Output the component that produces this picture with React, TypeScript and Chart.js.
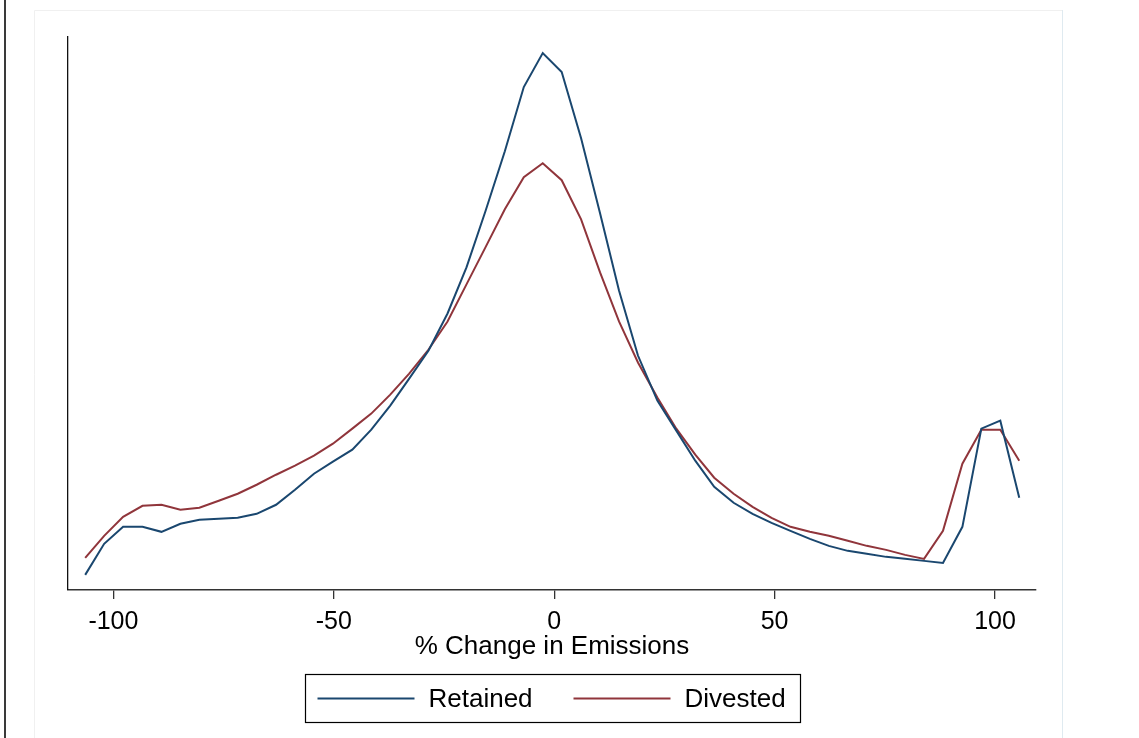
import React, { useEffect, useRef } from "react";
import { Chart, registerables } from "chart.js";

Chart.register(...registerables);

// Evaluation grid (% change in emissions) shared by both kernel density estimates
const X_GRID = [
  -106.4, -102.1, -97.8, -93.4, -89.1, -84.8, -80.5, -76.1, -71.8, -67.5,
  -63.1, -58.8, -54.5, -50.2, -45.8, -41.5, -37.2, -32.9, -28.5, -24.2,
  -19.9, -15.6, -11.2, -6.9, -2.6, 1.7, 6.1, 10.4, 14.7, 19.0,
  23.4, 27.7, 32.0, 36.3, 40.7, 45.0, 49.3, 53.6, 58.0, 62.3,
  66.6, 70.9, 75.3, 79.6, 83.9, 88.2, 92.6, 96.9, 101.2, 105.5,
];

const RETAINED = [
  0.0006, 0.00184, 0.00252, 0.00252, 0.00232, 0.00264, 0.0028, 0.00284, 0.00288, 0.00304,
  0.0034, 0.004, 0.00464, 0.00512, 0.0056, 0.0064, 0.00736, 0.00844, 0.00956, 0.01104,
  0.01288, 0.01512, 0.01752, 0.02008, 0.02144, 0.02068, 0.01804, 0.01504, 0.01196, 0.00936,
  0.00756, 0.00636, 0.00516, 0.00412, 0.00348, 0.00304, 0.00268, 0.00236, 0.00204, 0.00176,
  0.00156, 0.00144, 0.00132, 0.00124, 0.00116, 0.00108, 0.00252, 0.00644, 0.00676, 0.00368,
];

const DIVESTED = [
  0.00128, 0.00216, 0.00292, 0.00336, 0.0034, 0.0032, 0.00328, 0.00356, 0.00384, 0.0042,
  0.0046, 0.00496, 0.00536, 0.00584, 0.00644, 0.00704, 0.0078, 0.00864, 0.0096, 0.01072,
  0.0122, 0.01368, 0.0152, 0.01648, 0.01704, 0.01636, 0.0148, 0.01268, 0.01072, 0.00908,
  0.00768, 0.00644, 0.0054, 0.00448, 0.00384, 0.00332, 0.00288, 0.00252, 0.00232, 0.00216,
  0.00196, 0.00176, 0.0016, 0.0014, 0.00124, 0.00236, 0.00504, 0.0064, 0.0064, 0.00516,
];

const X_TICKS = [-100, -50, 0, 50, 100];
const SERIES_LABELS = ["Retained", "Divested"];
const X_TITLE = "% Change in Emissions";

const FONT = "Arial, 'Liberation Sans', sans-serif";
const COLORS = ["#1a476f", "#90353b"];

const framePlugin = {
  id: "frame",
  beforeDraw(chart: any) {
    const ctx = chart.ctx;
    const H = chart.height;
    ctx.save();
    ctx.fillStyle = "#ffffff";
    ctx.fillRect(0, 0, chart.width, H);
    // page rule on the left
    ctx.strokeStyle = "#3a3a3a";
    ctx.lineWidth = 2;
    ctx.beginPath();
    ctx.moveTo(5, 0);
    ctx.lineTo(5, H);
    ctx.stroke();
    // faint graph region frame
    ctx.lineWidth = 1;
    ctx.strokeStyle = "#f0f0f0";
    ctx.beginPath();
    ctx.moveTo(34.5, H);
    ctx.lineTo(34.5, 10.5);
    ctx.lineTo(1062, 10.5);
    ctx.stroke();
    ctx.strokeStyle = "#dfeaf0";
    ctx.beginPath();
    ctx.moveTo(1062.5, 10);
    ctx.lineTo(1062.5, H);
    ctx.stroke();
    ctx.restore();
  },
};

const legendPlugin = {
  id: "boxLegend",
  afterDraw(chart: any) {
    const ctx = chart.ctx;
    const area = chart.chartArea;
    const cx = (area.left + area.right) / 2;
    const boxW = 495;
    const boxH = 48;
    const left = Math.round(cx - boxW / 2) + 0.5;
    const top = 674.5;
    ctx.save();
    ctx.strokeStyle = "#000";
    ctx.lineWidth = 1.2;
    ctx.strokeRect(left, top, boxW, boxH);
    const midY = top + boxH / 2;
    ctx.font = `26px ${FONT}`;
    ctx.textBaseline = "middle";
    ctx.fillStyle = "#000";
    const ds = chart.data.datasets;
    const itemOffsets = [12, 268];
    ds.forEach((d: any, i: number) => {
      const x0 = left + itemOffsets[i];
      ctx.strokeStyle = d.borderColor;
      ctx.lineWidth = 2;
      ctx.beginPath();
      ctx.moveTo(x0, midY);
      ctx.lineTo(x0 + 97, midY);
      ctx.stroke();
      ctx.fillText(d.label, x0 + 111, midY + 1);
    });
    ctx.restore();
  },
};

export default function App() {
  const canvasRef = useRef<HTMLCanvasElement | null>(null);

  useEffect(() => {
    const canvas = canvasRef.current;
    if (!canvas) return;
    const chart = new Chart(canvas, {
      type: "line",
      data: {
        datasets: [
          {
            label: SERIES_LABELS[0],
            data: X_GRID.map((x, i) => ({ x, y: RETAINED[i] })),
            borderColor: COLORS[0],
            backgroundColor: COLORS[0],
            borderWidth: 2,
            pointRadius: 0,
            tension: 0,
            fill: false,
          },
          {
            label: SERIES_LABELS[1],
            data: X_GRID.map((x, i) => ({ x, y: DIVESTED[i] })),
            borderColor: COLORS[1],
            backgroundColor: COLORS[1],
            borderWidth: 2,
            pointRadius: 0,
            tension: 0,
            fill: false,
          },
        ],
      },
      options: {
        responsive: false,
        animation: false,
        events: [],
        layout: { padding: { left: 68, right: 103, top: 37, bottom: 84 } },
        plugins: {
          legend: { display: false },
          tooltip: { enabled: false },
          title: { display: false },
        },
        scales: {
          x: {
            type: "linear",
            min: -110.3,
            max: 109.3,
            afterBuildTicks: (scale: any) => {
              scale.ticks = X_TICKS.map((v) => ({ value: v }));
            },
            grid: {
              display: true,
              drawOnChartArea: false,
              drawTicks: true,
              tickLength: 9,
              color: "#333",
              lineWidth: 1.3,
            },
            border: { display: true, color: "#333", width: 1.5 },
            ticks: {
              color: "#000",
              font: { family: FONT, size: 25, lineHeight: 1 },
              padding: 11,
              maxRotation: 0,
              autoSkip: false,
              callback: (v: any) => String(v),
            },
            title: {
              display: true,
              text: X_TITLE,
              color: "#000",
              font: { family: FONT, size: 26, lineHeight: 0.58 },
              padding: { top: -7, bottom: 0 },
            },
          },
          y: {
            type: "linear",
            min: 0,
            max: 0.02208,
            grid: { display: false, drawTicks: false },
            border: { display: true, color: "#111", width: 1.3 },
            ticks: { display: false },
          },
        },
      },
      plugins: [framePlugin, legendPlugin],
    });
    return () => chart.destroy();
  }, []);

  return (
    <div style={{ position: "fixed", left: 0, top: 0, width: 1139, height: 738, background: "#fff" }}>
      <canvas ref={canvasRef} width={1139} height={738} style={{ display: "block", width: 1139, height: 738 }} />
    </div>
  );
}
